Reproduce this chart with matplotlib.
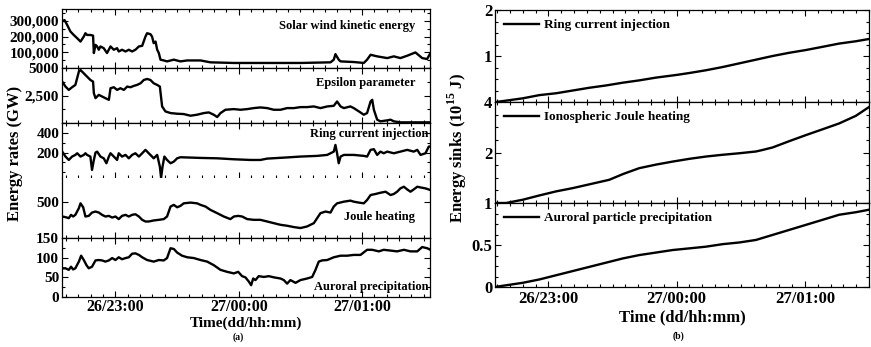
import numpy as np
import matplotlib
matplotlib.use("Agg")
import matplotlib.pyplot as plt
from matplotlib.ticker import FixedLocator, MultipleLocator, AutoMinorLocator

plt.rcParams['font.family'] = ['Liberation Serif', 'DejaVu Serif']
plt.rcParams['font.weight'] = 'bold'
plt.rcParams['axes.labelweight'] = 'bold'
plt.rcParams['mathtext.fontset'] = 'custom'
plt.rcParams['mathtext.rm'] = 'Liberation Serif:bold'

# time in minutes after 26/22:00
xtick_pos = [60, 120, 180]
xtick_labels = ["26/23:00", "27/00:00", "27/01:00"]

# ---- (a) energy rates ----
sw_t = [34.1, 35.2, 36.5, 38.1, 39.7, 41.4, 43.0, 44.6, 45.4, 46.2, 47.8, 49.1, 49.5, 50.3, 51.1,
        51.9, 52.7, 54.3, 55.9, 57.6, 59.2, 60.8, 61.6, 63.2, 64.9, 66.5, 68.1, 69.7, 71.4, 73.0,
        74.6, 75.4, 77.0, 77.8, 78.6, 79.5, 80.3, 81.1, 81.9, 83.5, 85.1, 88.4, 91.6, 94.9, 101.4,
        106.2, 117.6, 133.8, 150.0, 164.6, 166.2, 167.0, 168.6, 169.5, 175.9, 180.8, 182.4, 184.1,
        187.3, 192.2, 195.4, 198.6, 201.9, 205.9, 209.2, 211.6, 213.2]
sw_v = [295, 305, 274, 232, 210, 189, 168, 200, 221, 210, 210, 206, 95, 147, 137,
        116, 137, 126, 95, 137, 116, 126, 105, 116, 105, 116, 105, 116, 137, 141,
        200, 221, 215, 200, 158, 168, 116, 95, 53, 48, 42, 53, 42, 48, 48,
        36, 32, 32, 32, 36, 53, 88, 53, 42, 38, 32, 53, 84,
        74, 63, 74, 63, 78, 99, 63, 57, 95]  # thousands of GW

eps_t = [34.1, 35.7, 37.3, 38.9, 40.5, 42.2, 43.0, 44.6, 46.2, 47.8, 49.1, 49.5, 50.3, 51.9, 53.5,
         55.1, 56.8, 57.6, 59.2, 60.8, 62.4, 64.1, 65.7, 67.3, 68.9, 70.5, 72.2, 73.8, 75.4, 77.0,
         78.6, 80.3, 81.6, 82.7, 84.3, 86.8, 90.0, 93.2, 96.5, 99.7, 103.0, 105.4, 107.8, 109.5,
         111.1, 113.5, 117.6, 120.8, 124.1, 127.3, 130.5, 133.8, 137.0, 140.3, 143.5, 146.8, 150.0,
         153.2, 156.5, 159.7, 163.0, 166.2, 167.8, 169.5, 171.1, 174.3, 175.9, 178.4, 180.8, 182.4,
         184.1, 184.9, 185.7, 187.3, 188.9, 192.2, 193.8, 195.4, 198.6, 213.2]
eps_v = [3763, 3311, 3010, 3251, 3462, 4666, 4816, 4515, 4214, 3913, 3763, 2709, 2258, 2559, 2408,
         2258, 2107, 3161, 3251, 3010, 3161, 3010, 3311, 3251, 3371, 3462, 3612, 3913, 4003, 3913,
         3612, 3462, 3311, 1505, 1054, 903, 843, 813, 662, 753, 903, 963, 753, 542,
         903, 1204, 1264, 1204, 1264, 1355, 1415, 1355, 1204, 1204, 1355, 1355, 1445,
         1445, 1505, 1355, 1505, 1565, 1957, 1505, 1355, 1505, 1355, 1054, 753, 903,
         1957, 2107, 1204, 301, 151, 241, 301, 151, 60, 60]

ring_t = [34.1, 35.7, 37.3, 38.9, 40.5, 41.4, 43.0, 44.6, 45.4, 46.2, 47.8, 48.6, 49.5, 50.3, 51.1,
          52.7, 54.3, 55.6, 56.8, 57.6, 59.2, 60.8, 61.6, 63.2, 64.9, 66.5, 68.1, 69.7, 71.4, 73.0,
          74.6, 76.2, 77.8, 78.6, 80.3, 81.6, 82.2, 82.9, 83.8, 85.1, 86.8, 88.4, 90.0, 91.6, 101.4,
          109.5, 117.6, 125.7, 130.5, 133.8, 141.9, 150.0, 158.1, 163.0, 166.2, 167.0, 167.8, 168.6,
          169.5, 171.1, 175.9, 180.8, 182.4, 184.1, 185.7, 187.3, 188.9, 190.5, 192.2, 195.4, 198.6,
          201.9, 205.1, 206.8, 208.4, 210.8, 212.4, 213.2]
ring_v = [210, 159, 124, 159, 176, 193, 159, 176, 193, 176, 159, 21, 124, 200, 210,
          159, 141, 90, 159, 193, 159, 124, 193, 159, 176, 141, 176, 193, 159, 193,
          228, 193, 159, 141, 176, 55, -60, 55, 159, 124, 90, 107, 141, 152, 145,
          141, 131, 124, 124, 138, 148, 159, 166, 176, 210, 279, 193, 90,
          159, 176, 176, 166, 159, 228, 235, 176, 210, 193, 210, 193, 210,
          228, 210, 228, 176, 193, 262, 262]

joule_t = [34.1, 35.7, 37.3, 38.4, 39.4, 40.5, 42.2, 43.0, 44.3, 45.4, 47.0, 48.6, 50.3, 51.9, 53.5,
           55.1, 56.8, 58.4, 60.0, 61.6, 63.2, 64.9, 66.5, 68.1, 69.7, 71.4, 73.0, 74.6, 76.2, 78.6,
           81.1, 83.5, 85.1, 86.8, 88.4, 90.0, 91.6, 93.2, 96.5, 99.7, 101.4, 103.8, 106.2, 109.5,
           112.7, 115.9, 117.6, 119.7, 121.6, 124.1, 127.3, 130.5, 133.8, 137.0, 140.3, 143.5, 146.8,
           150.0, 153.2, 156.5, 158.1, 159.7, 162.2, 164.6, 166.2, 167.8, 171.1, 174.3, 175.9, 178.4,
           180.8, 182.4, 184.1, 186.5, 188.9, 191.4, 193.8, 195.4, 197.0, 198.6, 200.3, 201.9, 203.5,
           205.1, 206.8, 208.4, 210.8, 213.2]
joule_v = [357, 351, 341, 373, 357, 373, 437, 484, 446, 357, 363, 395, 405, 395, 373,
           357, 363, 347, 357, 332, 363, 373, 357, 373, 379, 357, 325, 309, 309, 319,
           325, 332, 357, 453, 469, 446, 459, 484, 491, 484, 469, 453, 421, 389,
           357, 332, 357, 363, 357, 332, 325, 325, 309, 293, 277, 268, 255,
           246, 261, 293, 341, 389, 405, 395, 453, 484, 500, 510, 500, 491,
           484, 516, 564, 574, 586, 596, 564, 574, 596, 628, 644, 618, 596,
           618, 644, 637, 628, 612]

aur_t = [34.1, 35.7, 37.3, 38.4, 39.4, 40.5, 42.2, 43.3, 44.6, 45.9, 47.0, 48.6, 50.3, 51.9, 53.5,
         55.1, 56.8, 58.4, 60.0, 61.6, 63.2, 64.9, 66.5, 68.1, 69.7, 71.4, 73.0, 75.4, 78.6, 81.1,
         83.5, 85.1, 86.8, 88.4, 90.0, 92.4, 94.9, 98.1, 101.4, 104.6, 107.8, 111.1, 114.3, 117.6,
         119.7, 121.6, 123.2, 124.9, 126.0, 127.0, 128.1, 129.7, 132.2, 134.6, 137.0, 140.3, 141.9,
         143.5, 145.1, 147.6, 150.0, 153.2, 155.7, 157.3, 158.9, 160.5, 163.0, 166.2, 169.5, 172.7,
         175.9, 179.2, 182.4, 184.9, 188.1, 190.5, 193.8, 197.0, 200.3, 203.5, 206.8, 209.2, 211.6,
         213.2]
aur_v = [73, 73, 69, 77, 70, 73, 90, 105, 94, 81, 73, 77, 93, 94, 93,
         90, 93, 99, 94, 101, 96, 99, 101, 110, 111, 107, 101, 94, 90, 94,
         93, 99, 124, 122, 113, 105, 101, 99, 94, 90, 81, 69, 64, 60,
         64, 53, 50, 39, 30, 47, 43, 53, 51, 53, 50, 47, 43,
         34, 43, 36, 43, 47, 51, 69, 90, 93, 94, 101, 105, 105,
         107, 107, 120, 120, 116, 120, 118, 116, 120, 116, 116, 127, 124,
         120]

# ---- (b) energy sinks (10^15 J) ----
ring_sink_t = [35.5, 48.0, 55.8, 63.6, 71.4, 79.2, 87.0, 94.8, 102.5, 110.3, 120.2, 125.9, 133.7,
               141.5, 149.3, 157.1, 164.9, 172.7, 180.5, 188.3, 196.0, 203.8, 210.0]
ring_sink_v = [0.0, 0.08, 0.15, 0.19, 0.25, 0.31, 0.36, 0.42, 0.47, 0.53, 0.59, 0.63, 0.69,
               0.76, 0.84, 0.92, 1.0, 1.07, 1.13, 1.2, 1.27, 1.32, 1.37]
joule_sink_t = [35.0, 40.2, 48.0, 55.8, 63.6, 71.4, 79.2, 88.5, 95.0, 102.5, 110.3, 118.1, 126.0,
                133.7, 141.5, 149.3, 157.1, 160.2, 164.9, 172.7, 180.5, 188.3, 196.0, 203.8, 210.0]
joule_sink_v = [0.0, 0.0, 0.13, 0.3, 0.46, 0.59, 0.74, 0.92, 1.15, 1.38, 1.52, 1.64, 1.75,
                1.84, 1.91, 1.97, 2.04, 2.1, 2.2, 2.45, 2.69, 2.92, 3.15, 3.45, 3.8]
aur_sink_t = [34.8, 48.0, 55.8, 63.6, 71.4, 79.2, 87.0, 94.8, 102.5, 110.3, 118.1, 126.0, 133.7,
              141.5, 149.3, 157.1, 164.9, 172.7, 180.5, 188.3, 196.0, 203.8, 210.0]
aur_sink_v = [0.0, 0.05, 0.09, 0.14, 0.19, 0.24, 0.29, 0.34, 0.38, 0.41, 0.44, 0.46, 0.48,
              0.51, 0.53, 0.56, 0.62, 0.68, 0.74, 0.8, 0.86, 0.89, 0.92]

W, H = 871, 347
fig = plt.figure(figsize=(W / 100, H / 100), dpi=100)

def box(l, r, t, b):
    return [l / W, 1 - b / H, (r - l) / W, (b - t) / H]

def style(ax, xlim, minor_y=2):
    ax.set_xlim(*xlim)
    ax.xaxis.set_major_locator(FixedLocator(xtick_pos))
    ax.xaxis.set_minor_locator(MultipleLocator(6))
    ax.yaxis.set_minor_locator(AutoMinorLocator(minor_y))
    ax.tick_params(which='both', direction='in', top=True, right=True, width=0.8)
    ax.tick_params(which='major', length=4, labelsize=11, pad=2)
    ax.tick_params(which='minor', length=2)
    for s in ax.spines.values():
        s.set_linewidth(0.9)
    ax.set_xticklabels([])

lw = 1.7
xl_a = (34, 213)
rows = [(9, 68), (68, 123), (123, 178), (178, 238), (238, 297)]
axs = [fig.add_axes(box(62, 430, t, b)) for t, b in rows]

a = axs[0]
a.plot(sw_t, np.array(sw_v) * 1000, color='k', lw=lw)
a.set_ylim(0, 375000)
a.set_yticks([100000, 200000, 300000])
a.set_yticklabels(["100,000", "200,000", "300,000"])
style(a, xl_a)
a.text(0.96, 0.72, "Solar wind kinetic energy", transform=a.transAxes, ha='right', va='center', fontsize=9)

a = axs[1]
a.plot(eps_t, eps_v, color='k', lw=lw)
a.set_ylim(0, 5000)
a.set_yticks([2500, 5000])
a.set_yticklabels(["2,500", "5000"])
style(a, xl_a)
a.text(0.96, 0.72, "Epsilon parameter", transform=a.transAxes, ha='right', va='center', fontsize=9)

a = axs[2]
a.plot(ring_t, ring_v, color='k', lw=lw)
a.set_ylim(-62, 505)
a.set_yticks([200, 400])
style(a, xl_a)
a.spines['bottom'].set_visible(False)
a.text(0.995, 0.8, "Ring current injection", transform=a.transAxes, ha='right', va='center', fontsize=9)

a = axs[3]
a.plot(joule_t, joule_v, color='k', lw=lw)
a.set_ylim(150, 728)
a.set_yticks([500])
style(a, xl_a)
a.spines['top'].set_visible(False)
a.tick_params(which='both', top=False)
a.text(0.96, 0.35, "Joule heating", transform=a.transAxes, ha='right', va='center', fontsize=9)

a = axs[4]
a.plot(aur_t, aur_v, color='k', lw=lw)
a.set_ylim(0, 150)
a.set_yticks([0, 50, 100, 150])
style(a, xl_a)
a.set_xticklabels(xtick_labels, fontsize=11.5)
a.tick_params(axis='x', pad=1.5)
a.text(0.995, 0.17, "Auroral precipitation", transform=a.transAxes, ha='right', va='center', fontsize=9)

fig.text(246 / W, 1 - 323.5 / H, "Time(dd/hh:mm)", ha='center', va='center', fontsize=11)
fig.text(15 / W, 1 - 153 / H, "Energy rates (GW)", rotation=90, ha='center', va='center', fontsize=12)
fig.text(238 / W, 1 - 337 / H, "(a)", ha='center', va='center', fontsize=7)

# right side
xl_b = (35, 210)
rrows = [(10, 102), (102, 203), (203, 287)]
bxs = [fig.add_axes(box(495, 869, t, b)) for t, b in rrows]
series_b = [(ring_sink_t, ring_sink_v, "Ring current injection", (0, 2), [1, 2]),
            (joule_sink_t, joule_sink_v, "Ionospheric Joule heating", (0, 4), [2, 4]),
            (aur_sink_t, aur_sink_v, "Auroral particle precipitation", (0, 1), [0, 0.5, 1])]
for b, (t, v, lab, yl, yt) in zip(bxs, series_b):
    b.plot(t, v, color='k', lw=lw, label=lab)
    b.set_ylim(*yl)
    b.set_yticks(yt)
    style(b, xl_b, minor_y=4)
    b.tick_params(axis='y', labelsize=12)
    b.set_yticklabels(["0.5" if y == 0.5 else str(int(y)) for y in yt])
    b.legend(loc='upper left', frameon=False, fontsize=9.5, handlelength=2.6,
             borderaxespad=0.3, handletextpad=0.4)
bxs[-1].set_xticklabels(xtick_labels, fontsize=12)
bxs[-1].tick_params(axis='x', pad=3)
fig.text(682 / W, 1 - 317 / H, "Time (dd/hh:mm)", ha='center', va='center', fontsize=12)
fig.text(457 / W, 1 - 148 / H, "Energy sinks (10$^{15}$ J)", rotation=90, ha='center', va='center', fontsize=12)
fig.text(678 / W, 1 - 336 / H, "(b)", ha='center', va='center', fontsize=7)

fig.savefig("out.png", dpi=100)
